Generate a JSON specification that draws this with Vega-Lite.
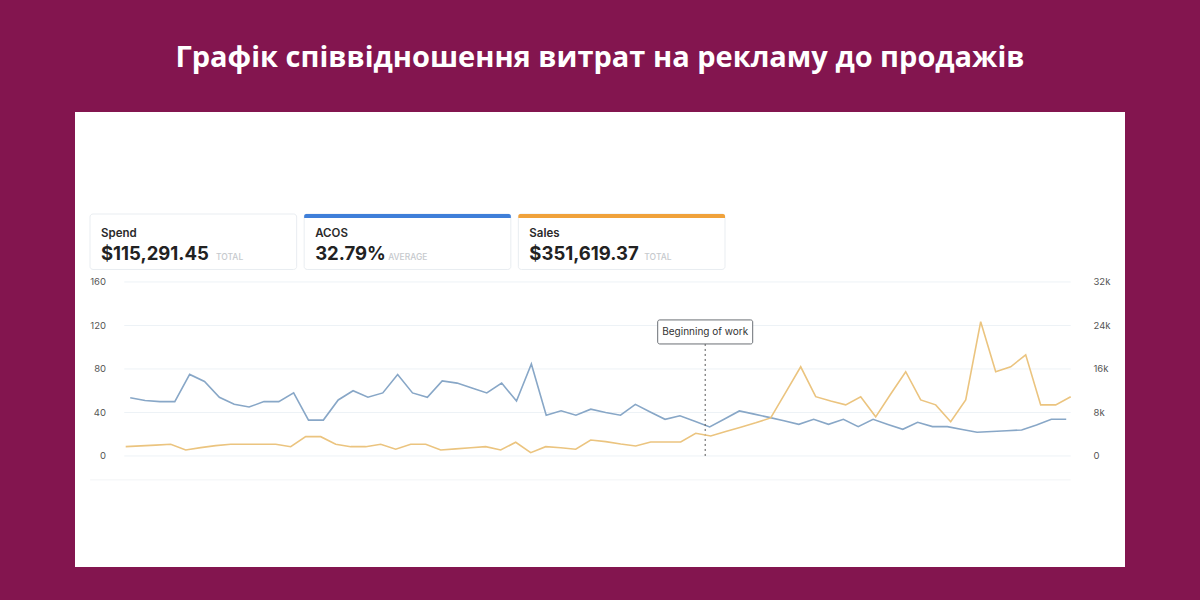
{
  "$schema": "https://vega.github.io/schema/vega-lite/v6.json",
  "width": 1050,
  "height": 455,
  "autosize": "none",
  "padding": {"left": 75, "top": 112, "right": 75, "bottom": 33},
  "background": "#83154f",
  "title": {
    "text": "Графік співвідношення витрат на рекламу до продажів",
    "color": "white",
    "font": "Open Sans",
    "fontSize": 29,
    "fontWeight": "bold",
    "anchor": "middle",
    "baseline": "alphabetic",
    "offset": 16
  },
  "config": {
    "view": {"fill": "white", "stroke": null},
    "font": "Inter",
    "axis": {
      "labelPadding": 2,
      "ticks": false,
      "tickSize": 0,
      "domain": false,
      "grid": false,
      "labelFlush": false,
      "labelFontSize": 9.5,
      "labelColor": "#555555",
      "labelFont": "Inter"
    },
    "axisLeft": {"offset": -32.5},
    "axisRight": {"offset": -34}
  },
  "datasets": {
    "cards": [
      {"metric": "Spend", "value": "$115,291.45", "note": "TOTAL"},
      {"metric": "ACOS", "value": "32.79%", "note": "AVERAGE"},
      {"metric": "Sales", "value": "$351,619.37", "note": "TOTAL"}
    ],
    "grid": [{"g": 0}, {"g": 40}, {"g": 80}, {"g": 120}, {"g": 160}],
    "events": [{"i": 38.7, "label": "Beginning of work"}],
    "series": [
      {"i": 0, "acos": 53.6, "sales": 1710},
      {"i": 1, "acos": 51, "sales": 1850},
      {"i": 2, "acos": 50, "sales": 2000},
      {"i": 3, "acos": 50, "sales": 2150},
      {"i": 4, "acos": 75, "sales": 1100},
      {"i": 5, "acos": 68.5, "sales": 1530},
      {"i": 6, "acos": 54, "sales": 1900},
      {"i": 7, "acos": 47.5, "sales": 2150},
      {"i": 8, "acos": 45, "sales": 2150},
      {"i": 9, "acos": 50, "sales": 2150},
      {"i": 10, "acos": 50, "sales": 2150},
      {"i": 11, "acos": 58, "sales": 1710},
      {"i": 12, "acos": 33, "sales": 3550},
      {"i": 13, "acos": 33, "sales": 3550},
      {"i": 14, "acos": 51.5, "sales": 2150},
      {"i": 15, "acos": 60, "sales": 1710},
      {"i": 16, "acos": 54, "sales": 1710},
      {"i": 17, "acos": 58, "sales": 2150},
      {"i": 18, "acos": 75, "sales": 1230},
      {"i": 19, "acos": 58, "sales": 2150},
      {"i": 20, "acos": 54, "sales": 2150},
      {"i": 21, "acos": 69, "sales": 1100},
      {"i": 22, "acos": 67, "sales": 1300},
      {"i": 23, "acos": 62.5, "sales": 1500},
      {"i": 24, "acos": 58, "sales": 1710},
      {"i": 25, "acos": 67, "sales": 1100},
      {"i": 26, "acos": 50.5, "sales": 2520},
      {"i": 27, "acos": 84.6, "sales": 600},
      {"i": 28, "acos": 37.5, "sales": 1710},
      {"i": 29, "acos": 41.5, "sales": 1500},
      {"i": 30, "acos": 37.5, "sales": 1230},
      {"i": 31, "acos": 43, "sales": 2940},
      {"i": 32, "acos": 40, "sales": 2630},
      {"i": 33, "acos": 37.5, "sales": 2200},
      {"i": 34, "acos": 47.5, "sales": 1840},
      {"i": 35, "acos": 40.5, "sales": 2570},
      {"i": 36, "acos": 33.7, "sales": 2570},
      {"i": 37, "acos": 37, "sales": 2570},
      {"i": 38, "acos": 32, "sales": 4170},
      {"i": 39, "acos": 26.7, "sales": 3680},
      {"i": 40, "acos": 34, "sales": 4500},
      {"i": 41, "acos": 41.4, "sales": 5300},
      {"i": 42, "acos": 38.5, "sales": 6100},
      {"i": 43, "acos": 35.5, "sales": 7000},
      {"i": 44, "acos": 32.3, "sales": 11700},
      {"i": 45, "acos": 29.1, "sales": 16400},
      {"i": 46, "acos": 33.7, "sales": 10900},
      {"i": 47, "acos": 29.1, "sales": 10100},
      {"i": 48, "acos": 33.7, "sales": 9400},
      {"i": 49, "acos": 27, "sales": 10900},
      {"i": 50, "acos": 33.7, "sales": 7200},
      {"i": 51, "acos": 29, "sales": 11400},
      {"i": 52, "acos": 24.5, "sales": 15500},
      {"i": 53, "acos": 31, "sales": 10300},
      {"i": 54, "acos": 27, "sales": 9400},
      {"i": 55, "acos": 27, "sales": 6300},
      {"i": 56, "acos": 24.3, "sales": 10300},
      {"i": 57, "acos": 21.8, "sales": 24700},
      {"i": 58, "acos": 22.5, "sales": 15500},
      {"i": 59, "acos": 23.2, "sales": 16400},
      {"i": 60, "acos": 23.9, "sales": 18600},
      {"i": 61, "acos": 28.5, "sales": 9400},
      {"i": 62, "acos": 33.7, "sales": 9400},
      {"i": 63, "acos": 33.7, "sales": 10900}
    ]
  },
  "layer": [
    {
      "data": {"name": "cards"},
      "encoding": {
        "x": {
          "field": "metric",
          "type": "nominal",
          "bandPosition": 0,
          "axis": null,
          "scale": {"domain": ["Spend", "ACOS", "Sales"], "range": [15, 650], "paddingInner": 0.035, "paddingOuter": 0}
        }
      },
      "layer": [
        {
          "mark": {"type": "rect", "fill": "white", "stroke": "#e9edf1", "strokeWidth": 1, "cornerRadius": 3},
          "encoding": {
            "x": {"field": "metric", "type": "nominal", "axis": null, "scale": {"domain": ["Spend", "ACOS", "Sales"], "range": [15, 650], "paddingInner": 0.035, "paddingOuter": 0}},
            "y": {"datum": 222.5, "type": "quantitative", "axis": null, "scale": {"domain": [-102.1, 316.3], "nice": false, "zero": false}},
            "y2": {"datum": 171.5}
          }
        },
        {
          "transform": [{"filter": "datum.metric != 'Spend'"}],
          "mark": {"type": "rect", "cornerRadiusTopLeft": 2, "cornerRadiusTopRight": 2},
          "encoding": {
            "x": {"field": "metric", "type": "nominal", "axis": null, "scale": {"domain": ["Spend", "ACOS", "Sales"], "range": [15, 650], "paddingInner": 0.035, "paddingOuter": 0}},
            "y": {"datum": 222.5, "type": "quantitative", "axis": null},
            "y2": {"datum": 218.9},
            "color": {"field": "metric", "type": "nominal", "legend": null, "scale": {"domain": ["ACOS", "Sales"], "range": ["#3f7fd9", "#f0a23b"]}}
          }
        },
        {
          "mark": {"type": "text", "align": "left", "baseline": "alphabetic", "dx": 11, "fontSize": 11.5, "fontWeight": 600, "color": "#2a2a2a"},
          "encoding": {
            "y": {"datum": 201.7, "type": "quantitative", "axis": null},
            "text": {"field": "metric"}
          }
        },
        {
          "mark": {"type": "text", "align": "left", "baseline": "alphabetic", "dx": 11, "fontSize": 18.5, "fontWeight": "bold", "color": "#222222"},
          "encoding": {
            "y": {"datum": 180.2, "type": "quantitative", "axis": null},
            "text": {"field": "value"}
          }
        },
        {
          "mark": {"type": "text", "align": "left", "baseline": "alphabetic", "dx": {"expr": "datum.metric == 'ACOS' ? 84 : 126"}, "fontSize": 8.5, "fontWeight": 500, "color": "#c6c9cd"},
          "encoding": {
            "y": {"datum": 180.2, "type": "quantitative", "axis": null},
            "text": {"field": "note"}
          }
        }
      ]
    },
    {
      "layer": [
        {
          "data": {"name": "grid"},
          "mark": {"type": "rule", "color": "#edf2f6", "strokeWidth": 1},
          "encoding": {
            "x": {"datum": -0.4, "type": "quantitative", "axis": null, "scale": {"domain": [-3.38, 66.62], "nice": false, "zero": false}},
            "x2": {"datum": 63.3},
            "y": {"field": "g", "type": "quantitative", "scale": {"domain": [-102.1, 316.3], "nice": false, "zero": false}, "axis": {"orient": "left", "values": [0, 40, 80, 120, 160], "title": null}}
          }
        },
        {
          "data": {"name": "grid"},
          "transform": [{"filter": "datum.g == 0"}],
          "mark": {"type": "rule", "color": "#f2f4f6", "strokeWidth": 1},
          "encoding": {
            "x": {"datum": -2.7, "type": "quantitative", "axis": null},
            "x2": {"datum": 63.3},
            "y": {"datum": -22, "type": "quantitative", "axis": {"orient": "left", "values": [0, 40, 80, 120, 160], "title": null}}
          }
        },
        {
          "data": {"name": "series"},
          "mark": {"type": "line", "color": "#88a7c7", "strokeWidth": 1.6},
          "encoding": {
            "x": {"field": "i", "type": "quantitative", "axis": null, "scale": {"domain": [-3.38, 66.62], "nice": false, "zero": false}},
            "y": {"field": "acos", "type": "quantitative", "scale": {"domain": [-102.1, 316.3], "nice": false, "zero": false}, "axis": {"orient": "left", "values": [0, 40, 80, 120, 160], "title": null}}
          }
        },
        {
          "data": {"name": "events"},
          "mark": {"type": "rule", "color": "#555555", "strokeWidth": 1, "strokeDash": [2, 3]},
          "encoding": {
            "x": {"field": "i", "type": "quantitative", "axis": null},
            "y": {"datum": 103, "type": "quantitative", "axis": {"orient": "left", "values": [0, 40, 80, 120, 160], "title": null}},
            "y2": {"datum": -1}
          }
        },
        {
          "data": {"name": "events"},
          "mark": {"type": "bar", "width": 95, "fill": "white", "stroke": "#6b6f75", "strokeWidth": 1, "cornerRadius": 2},
          "encoding": {
            "x": {"field": "i", "type": "quantitative", "axis": null},
            "y": {"datum": 125.1, "type": "quantitative", "axis": {"orient": "left", "values": [0, 40, 80, 120, 160], "title": null}},
            "y2": {"datum": 103}
          }
        },
        {
          "data": {"name": "events"},
          "mark": {"type": "text", "fontSize": 10, "color": "#333333", "baseline": "middle", "align": "center"},
          "encoding": {
            "x": {"field": "i", "type": "quantitative", "axis": null},
            "y": {"datum": 114, "type": "quantitative", "axis": {"orient": "left", "values": [0, 40, 80, 120, 160], "title": null}},
            "text": {"field": "label"}
          }
        }
      ]
    },
    {
      "data": {"name": "series"},
      "mark": {"type": "line", "color": "#ebc47f", "strokeWidth": 1.6},
      "encoding": {
        "x": {"field": "i", "type": "quantitative", "axis": null, "scale": {"domain": [-3.38, 66.62], "nice": false, "zero": false}},
        "y": {
          "field": "sales",
          "type": "quantitative",
          "scale": {"domain": [-20420, 63260], "nice": false, "zero": false},
          "axis": {
            "orient": "right",
            "values": [0, 8000, 16000, 24000, 32000],
            "labelExpr": "datum.value == 0 ? '0' : datum.value / 1000 + 'k'",
            "title": null
          }
        }
      }
    }
  ],
  "resolve": {"scale": {"x": "independent", "y": "independent"}}
}
